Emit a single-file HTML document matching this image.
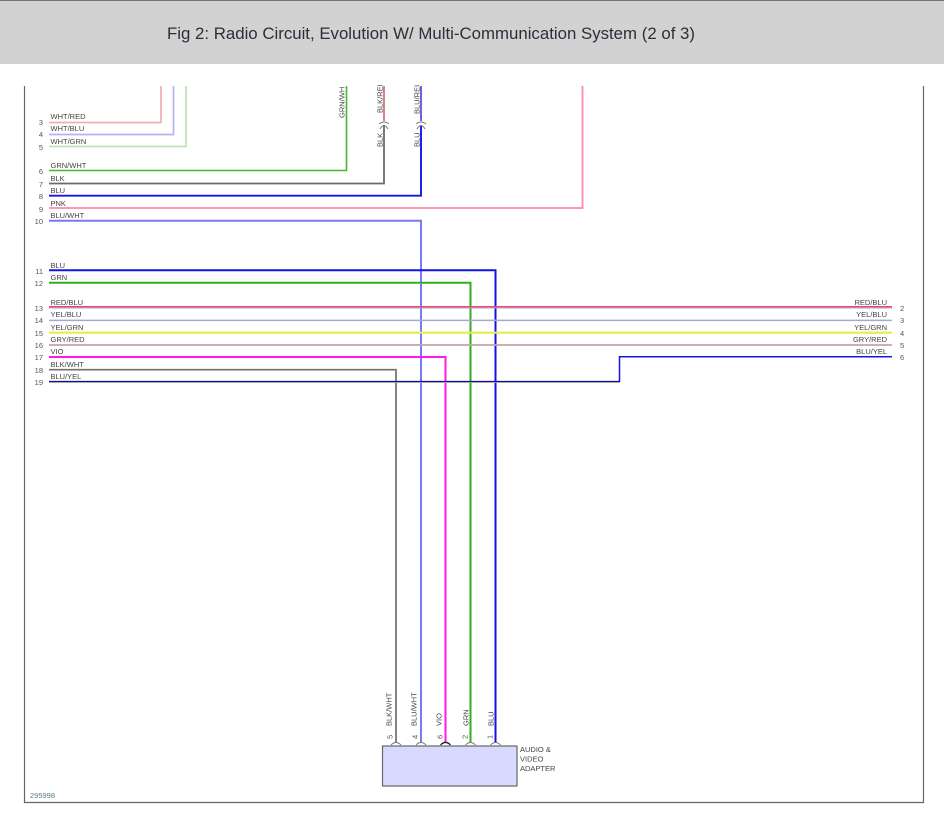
<!DOCTYPE html>
<html><head><meta charset="utf-8"><style>
html,body{margin:0;padding:0;background:#fff;width:944px;height:825px;overflow:hidden}
svg{display:block}
text{font-family:"Liberation Sans",Arial,sans-serif}
.l{font-size:7.5px;fill:#444}
.n{font-size:7.5px;fill:#555}
.e{text-anchor:end}
path,line{fill:none}
</style></head><body>
<svg width="944" height="825" viewBox="0 0 944 825" xmlns="http://www.w3.org/2000/svg">
<rect x="0" y="0" width="944" height="64" fill="#d2d2d2"/>
<rect x="0" y="0" width="944" height="1" fill="#777"/>
<text x="167" y="39" font-size="17" fill="#2a2f3a" textLength="528" lengthAdjust="spacingAndGlyphs">Fig 2: Radio Circuit, Evolution W/ Multi-Communication System (2 of 3)</text>
<path d="M24.5 86V802.5H923.5V86" stroke="#666" stroke-width="1.2"/>

<path d="M49 122.5H161V86" stroke="#f0b0b0" stroke-width="1.7"/>
<path d="M49 134.5H173.5V86" stroke="#b4b4f4" stroke-width="1.7"/>
<path d="M49 146.5H186V86" stroke="#bde2b4" stroke-width="1.8"/>
<path d="M49 170.5H346.5V86" stroke="#44b82c" stroke-width="1.6"/>
<path d="M49 183.5H384V126" stroke="#6a6a6a" stroke-width="1.8"/>
<path d="M384 121V86" stroke="#c86464" stroke-width="1.6"/>
<path d="M49 195.7H421V126" stroke="#1414ee" stroke-width="1.9"/>
<path d="M421 121V86" stroke="#7a5ce0" stroke-width="2"/>
<path d="M49 208H582.5V86" stroke="#ff8aa8" stroke-width="1.8"/>
<path d="M49 220.7H421V742" stroke="#7878fa" stroke-width="2"/>
<path d="M49 270.3H495.5V742" stroke="#1212e4" stroke-width="2"/>
<path d="M49 282.7H470.5V742" stroke="#32ae20" stroke-width="2"/>
<line x1="49" x2="892" y1="306.8" y2="306.8" stroke="#e84a66" stroke-width="1.5"/>
<line x1="49" x2="892" y1="308.1" y2="308.1" stroke="#a8a0e8" stroke-width="0.9"/>
<line x1="49" x2="892" y1="320.4" y2="320.4" stroke="#a8a8cc" stroke-width="1.5"/>
<line x1="49" x2="892" y1="332.7" y2="332.7" stroke="#e4ee44" stroke-width="2.2"/>
<line x1="49" x2="892" y1="345" y2="345" stroke="#c4a4a4" stroke-width="1.8"/>
<path d="M49 357H445.5V742" stroke="#ff1ae6" stroke-width="2"/>
<path d="M49 369.7H396V742" stroke="#707070" stroke-width="1.7"/>
<path d="M619.5 382V356.7H892" stroke="#1414e6" stroke-width="1.5"/>
<line x1="49" x2="620" y1="381.6" y2="381.6" stroke="#0a0ab0" stroke-width="1.4"/>
<line x1="49" x2="620" y1="382.6" y2="382.6" stroke="#b8b890" stroke-width="0.7"/>

<g stroke="#777" stroke-width="1">
<path d="M379 124Q384 120 389 124M380 129Q384 122 388 129"/>
<path d="M416 124Q421 120 426 124M417 129Q421 122 425 129"/>
<path d="M391 745Q396 740 401 745"/>
<path d="M416 745Q421 740 426 745"/>
<path d="M465.5 745Q470.5 740 475.5 745"/>
<path d="M490.5 745Q495.5 740 500.5 745"/>
<path d="M440.5 745Q445.5 740 450.5 745" stroke="#222" stroke-width="1.3"/>
</g>
<rect x="382.5" y="746" width="134.5" height="40" fill="#d9d9ff" stroke="#666" stroke-width="1.2"/>

<g>
<text class="l" x="50.5" y="119">WHT/RED</text>
<text class="l" x="50.5" y="131">WHT/BLU</text>
<text class="l" x="50.5" y="144">WHT/GRN</text>
<text class="l" x="50.5" y="168">GRN/WHT</text>
<text class="l" x="50.5" y="181">BLK</text>
<text class="l" x="50.5" y="193">BLU</text>
<text class="l" x="50.5" y="206">PNK</text>
<text class="l" x="50.5" y="218">BLU/WHT</text>
<text class="l" x="50.5" y="268">BLU</text>
<text class="l" x="50.5" y="280">GRN</text>
<text class="l" x="50.5" y="305">RED/BLU</text>
<text class="l" x="50.5" y="317">YEL/BLU</text>
<text class="l" x="50.5" y="330">YEL/GRN</text>
<text class="l" x="50.5" y="342">GRY/RED</text>
<text class="l" x="50.5" y="354">VIO</text>
<text class="l" x="50.5" y="367">BLK/WHT</text>
<text class="l" x="50.5" y="379">BLU/YEL</text>
</g>
<g>
<text class="n e" x="43" y="125">3</text>
<text class="n e" x="43" y="137">4</text>
<text class="n e" x="43" y="150">5</text>
<text class="n e" x="43" y="174">6</text>
<text class="n e" x="43" y="187">7</text>
<text class="n e" x="43" y="199">8</text>
<text class="n e" x="43" y="212">9</text>
<text class="n e" x="43" y="224">10</text>
<text class="n e" x="43" y="274">11</text>
<text class="n e" x="43" y="286">12</text>
<text class="n e" x="43" y="311">13</text>
<text class="n e" x="43" y="323">14</text>
<text class="n e" x="43" y="336">15</text>
<text class="n e" x="43" y="348">16</text>
<text class="n e" x="43" y="360">17</text>
<text class="n e" x="43" y="373">18</text>
<text class="n e" x="43" y="385">19</text>
</g>
<g>
<text class="l e" x="887" y="305">RED/BLU</text>
<text class="l e" x="887" y="317">YEL/BLU</text>
<text class="l e" x="887" y="330">YEL/GRN</text>
<text class="l e" x="887" y="342">GRY/RED</text>
<text class="l e" x="887" y="354">BLU/YEL</text>
<text class="n" x="900" y="311">2</text>
<text class="n" x="900" y="323">3</text>
<text class="n" x="900" y="336">4</text>
<text class="n" x="900" y="348">5</text>
<text class="n" x="900" y="360">6</text>
</g>
<g>
<text class="l" transform="translate(344.5,118) rotate(-90)">GRN/WH</text>
<text class="l" transform="translate(382.7,113) rotate(-90)">BLK/REI</text>
<text class="l" transform="translate(419.5,114) rotate(-90)">BLU/REI</text>
<text class="l" transform="translate(382.7,147) rotate(-90)">BLK</text>
<text class="l" transform="translate(419.5,147) rotate(-90)">BLU</text>
<text class="l" transform="translate(391.5,726) rotate(-90)">BLK/WHT</text>
<text class="l" transform="translate(416.5,726) rotate(-90)">BLU/WHT</text>
<text class="l" transform="translate(441.5,726) rotate(-90)">VIO</text>
<text class="l" transform="translate(468.5,726) rotate(-90)">GRN</text>
<text class="l" transform="translate(493.5,726) rotate(-90)">BLU</text>
<text class="n" transform="translate(392.5,739) rotate(-90)">5</text>
<text class="n" transform="translate(417.5,739) rotate(-90)">4</text>
<text class="n" transform="translate(442.5,739) rotate(-90)">6</text>
<text class="n" transform="translate(467.5,739) rotate(-90)">2</text>
<text class="n" transform="translate(492.5,739) rotate(-90)">1</text>
</g>
<text class="l" x="520" y="752">AUDIO &amp;</text>
<text class="l" x="520" y="761.5">VIDEO</text>
<text class="l" x="520" y="771">ADAPTER</text>
<text class="n" x="30" y="798" style="fill:#5a7a80">295998</text>
</svg>
</body></html>
